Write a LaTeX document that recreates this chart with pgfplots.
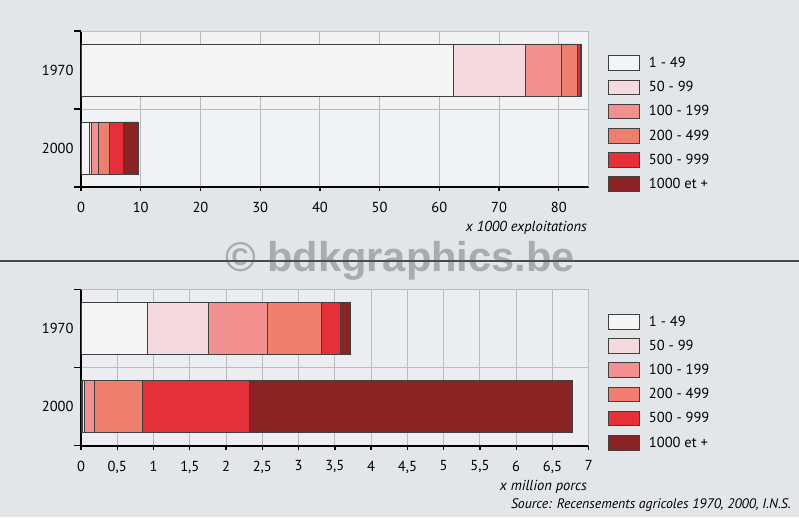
\documentclass[border=0pt]{standalone}
\usepackage{pgfplots}
\pgfplotsset{compat=1.18}
\usepackage{fontspec}
\setmainfont{PT Sans}
\newfontfamily\wmfont{Liberation Sans}

\definecolor{bgc}{HTML}{E3E6E9}
\definecolor{plotbgA}{HTML}{F0F2F4}
\definecolor{plotbgB}{HTML}{EBEDF0}
\definecolor{gridc}{HTML}{B9BCBF}
\definecolor{c1}{HTML}{F5F5F6}
\definecolor{c2}{HTML}{F4D9DF}
\definecolor{c3}{HTML}{F28F8F}
\definecolor{c4}{HTML}{F07E6E}
\definecolor{c5}{HTML}{E5303A}
\definecolor{c6}{HTML}{8B2324}
\definecolor{wmc}{HTML}{A9ACAF}

\pgfplotsset{
  farm/.style={
    scale only axis, width=507.7pt, height=156pt,
    xbar stacked, bar width=0.667,
    ymin=-0.5, ymax=1.5,
    ytick={0,1}, yticklabels={2000,1970},
    minor ytick={-0.5,0.5,1.5},
    major y tick style={draw=none},
    minor tick length=7pt, major tick length=4pt,
    tick align=outside,
    tick style={black, line width=1.3pt},
    xmajorgrids, yminorgrids,
    grid style={gridc, line width=0.9pt},
    axis x line*=bottom, axis y line*=left,
    axis line style={line width=1.8pt, black, -},
    xtick pos=bottom, ytick pos=left,
    font=\fontsize{14.5}{16}\selectfont,
    xticklabel style={yshift=-7.5pt},
    /pgf/number format/assume math mode=true,
    /pgf/number format/use comma,
    legend cell align=left,
    legend image code/.code={\draw[##1, draw=black!75, line width=0.8pt] (0pt,-7.3pt) rectangle (31pt,7.3pt); \path (40pt,0pt);},
    legend style={draw=none, fill=none, inner sep=0pt, anchor=north west,
      row sep=8.8pt, font=\fontsize{14.5}{16}\selectfont,
      nodes={inner sep=0pt}},
    every axis plot/.append style={draw=black!75, line width=0.8pt},
    after end axis/.code={\draw[gridc, line width=0.9pt] (rel axis cs:0,1) -- (rel axis cs:1,1) -- (rel axis cs:1,0);},
  }
}

\begin{document}
\begin{tikzpicture}
\fill[bgc] (0,0) rectangle (799pt,517pt);

% haut : exploitations
\begin{axis}[farm, name=haut, at={(81pt,330pt)}, anchor=south west,
  axis background/.style={fill=plotbgA},
  xmin=0, xmax=85, xtick={0,10,...,80},
  legend style={at={(axis description cs:1.038,0.845)}}]
\addplot[fill=c1] coordinates {(62.4,1) (1.35,0)};
\addplot[fill=c2] coordinates {(12.0,1) (0.4,0)};
\addplot[fill=c3] coordinates {(6.1,1) (1.15,0)};
\addplot[fill=c4] coordinates {(2.6,1) (1.85,0)};
\addplot[fill=c5] coordinates {(0.5,1) (2.35,0)};
\addplot[fill=c6] coordinates {(0.1,1) (2.5,0)};
\legend{1 - 49, 50 - 99, 100 - 199, 200 - 499, 500 - 999, 1000 et +}
\end{axis}
\node[anchor=base east, font=\fontsize{14.5}{16}\selectfont\itshape, inner sep=0pt]
  at ([xshift=-1.5pt, yshift=-45pt]haut.south east) {x 1000 exploitations};

% bas : porcs
\begin{axis}[farm, name=bas, at={(81pt,71.3pt)}, anchor=south west,
  axis background/.style={fill=plotbgB},
  xmin=0, xmax=7, xtick={0,0.5,...,7},
  legend style={at={(axis description cs:1.038,0.845)}}]
\addplot[fill=c1] coordinates {(0.92,1) (0.02,0)};
\addplot[fill=c2] coordinates {(0.84,1) (0.02,0)};
\addplot[fill=c3] coordinates {(0.81,1) (0.14,0)};
\addplot[fill=c4] coordinates {(0.74,1) (0.66,0)};
\addplot[fill=c5] coordinates {(0.26,1) (1.48,0)};
\addplot[fill=c6] coordinates {(0.15,1) (4.46,0)};
\legend{1 - 49, 50 - 99, 100 - 199, 200 - 499, 500 - 999, 1000 et +}
\end{axis}
\node[anchor=base east, font=\fontsize{14.5}{16}\selectfont\itshape, inner sep=0pt]
  at ([xshift=-1.5pt, yshift=-45pt]bas.south east) {x million porcs};

\node[anchor=base east, font=\fontsize{13.8}{16}\selectfont\itshape, inner sep=0pt] at (791pt,9pt) {Source: Recensements agricoles 1970, 2000, I.N.S.};

\node[anchor=base, text=wmc, font=\wmfont\bfseries\fontsize{41.6}{44}\selectfont, inner sep=0pt] at (400pt,245pt) {© bdkgraphics.be};
\draw[black!70, line width=1.4pt] (0,256pt) -- (799pt,256pt);

\pgfresetboundingbox
\path[use as bounding box] (0,0) rectangle (799pt,517pt);
\end{tikzpicture}
\end{document}
